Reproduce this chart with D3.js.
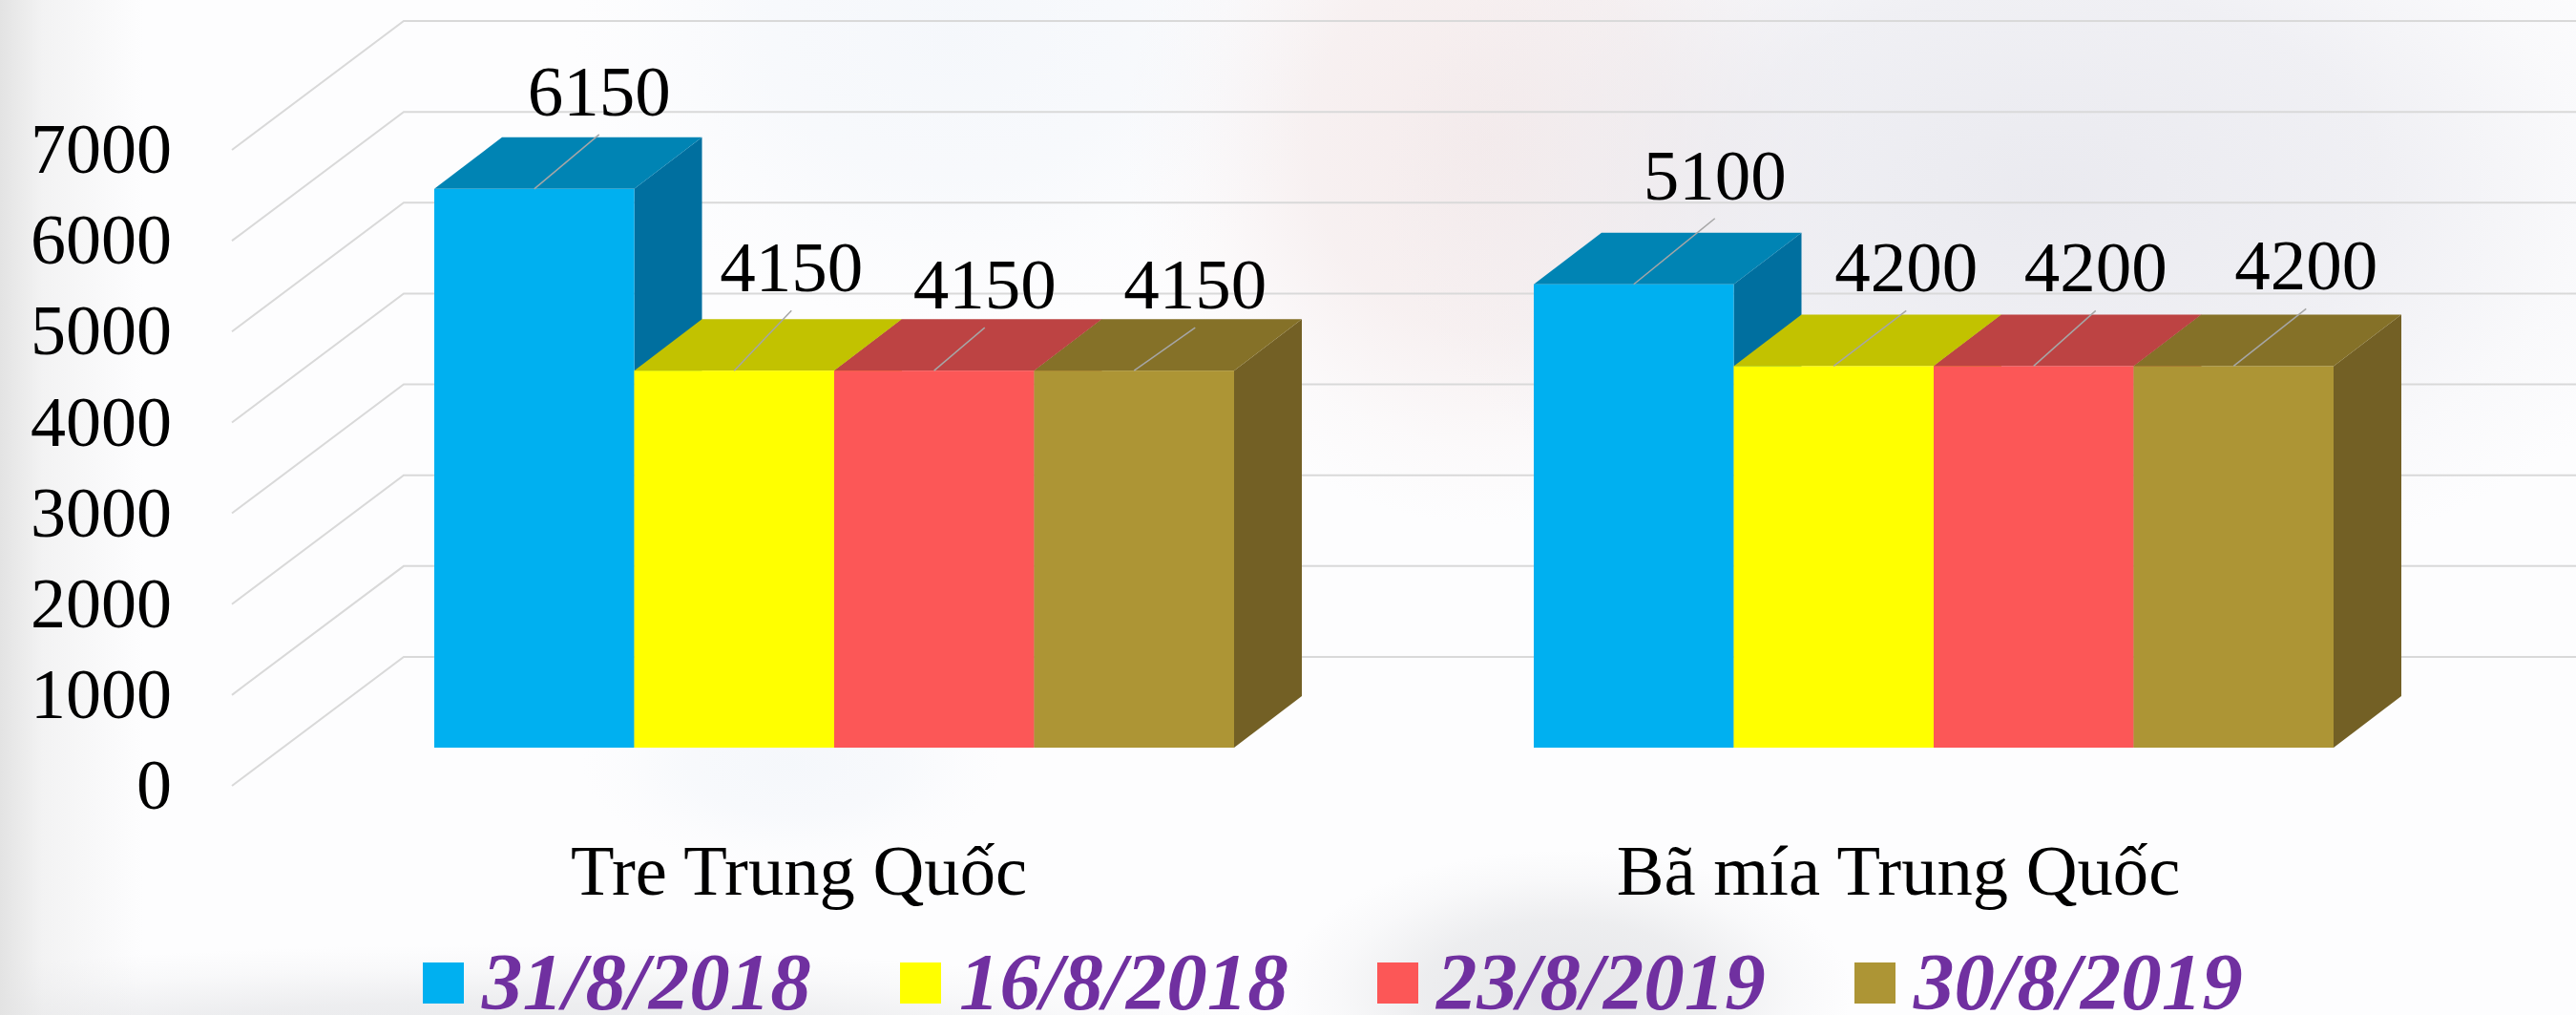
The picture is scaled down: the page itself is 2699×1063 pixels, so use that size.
<!DOCTYPE html>
<html>
<head>
<meta charset="utf-8">
<style>
  html, body { margin: 0; padding: 0; background: #fff; overflow: hidden; }
  text { font-family: "Liberation Serif", "Times New Roman", serif; fill: #000; }
</style>
<script src="https://cdn.jsdelivr.net/npm/d3@7"></script>
</head>
<body>
<svg id="chart"></svg>
<script>
const categories = ['Tre Trung Quốc', 'Bã mía Trung Quốc'];
const series = ['31/8/2018', '16/8/2018', '23/8/2019', '30/8/2019'];
const treValues = [6150, 4150, 4150, 4150];
const baMiaValues = [5100, 4200, 4200, 4200];
const yTicks = [0, 1000, 2000, 3000, 4000, 5000, 6000, 7000];

const faceColors = ['#00b0f0', '#ffff00', '#fc5757', '#ad9535'];
const topColors = ['#0084b4', '#c2c200', '#bd4343', '#857128'];
const sideColors = ['#006f9f', '#a8a800', '#a83a3a', '#736025'];

// label offset from the middle of the bar's top front edge, picked by eye
const labelOffsets = [
  [[68, -77], [60, -83], [53, -65], [64, -65]],
  [[85, -89], [76, -78], [65, -78], [76, -80]]
];

const width = 2699;
const height = 1063;
const depthX = 71;
const depthY = 54;
const wallX = 180;
const wallY = 135;
const floorLeft = 243;
const barLift = 40;

const svg = d3.select('#chart').attr('width', width).attr('height', height);

// background: pale photo-like wash
const defs = svg.append('defs');

function softSpot(id, color, opacity) {
  const g = defs.append('radialGradient').attr('id', id);
  g.append('stop').attr('offset', '0%').attr('stop-color', color).attr('stop-opacity', opacity);
  g.append('stop').attr('offset', '50%').attr('stop-color', color).attr('stop-opacity', opacity * 0.7);
  g.append('stop').attr('offset', '80%').attr('stop-color', color).attr('stop-opacity', opacity * 0.2);
  g.append('stop').attr('offset', '100%').attr('stop-color', color).attr('stop-opacity', 0);
}
softSpot('spotPink', '#efdfdf', 0.6);
softSpot('spotLav', '#e8e8ee', 0.9);
softSpot('spotBlue', '#e9eff7', 0.4);
softSpot('spotGrey', '#dcdde0', 0.7);

const leftFade = defs.append('linearGradient').attr('id', 'leftFade');
leftFade.append('stop').attr('offset', '0%').attr('stop-color', '#e3e3e3');
leftFade.append('stop').attr('offset', '30%').attr('stop-color', '#e3e3e3').attr('stop-opacity', 0.4);
leftFade.append('stop').attr('offset', '100%').attr('stop-color', '#e3e3e3').attr('stop-opacity', 0);

const bg = svg.append('g');
bg.append('rect').attr('width', width).attr('height', height).attr('fill', '#fdfdfe');
bg.append('ellipse').attr('cx', 1560).attr('cy', 150).attr('rx', 380).attr('ry', 400).attr('fill', 'url(#spotPink)');
bg.append('ellipse').attr('cx', 2150).attr('cy', 200).attr('rx', 700).attr('ry', 420).attr('fill', 'url(#spotLav)');
bg.append('ellipse').attr('cx', 1000).attr('cy', 40).attr('rx', 400).attr('ry', 300).attr('fill', 'url(#spotBlue)');
bg.append('ellipse').attr('cx', 830).attr('cy', 800).attr('rx', 220).attr('ry', 110).attr('fill', 'url(#spotBlue)');
bg.append('ellipse').attr('cx', 1640).attr('cy', 1040).attr('rx', 300).attr('ry', 150).attr('fill', 'url(#spotGrey)');
bg.append('ellipse').attr('cx', 500).attr('cy', 1110).attr('rx', 900).attr('ry', 120).attr('fill', 'url(#spotGrey)');
bg.append('rect').attr('width', 150).attr('height', height).attr('fill', 'url(#leftFade)');

const y = d3.scaleLinear().domain([0, 7000]).range([823, 157]);
const xCat = d3.scaleBand().domain(categories).range([298, 2602]).paddingInner(0).paddingOuter(0);
const xBar = d3.scaleBand().domain(series).range([0, 838]);

// gridlines run up the side wall, then along the back wall
const grid = d3.line();
svg.append('g').selectAll('path')
  .data(yTicks)
  .join('path')
  .attr('d', d => grid([[floorLeft, y(d)], [floorLeft + wallX, y(d) - wallY], [width, y(d) - wallY]]))
  .attr('fill', 'none')
  .attr('stroke', '#d9d9d9')
  .attr('stroke-width', 2);

const yAxis = svg.append('g')
  .attr('transform', 'translate(180,0)')
  .call(d3.axisLeft(y).tickValues(yTicks).tickSize(0).tickPadding(0).tickFormat(d3.format('d')));
yAxis.select('.domain').remove();
yAxis.selectAll('text').style('font-size', '74px').style('font-family', '"Liberation Serif"').attr('dy', '0.32em');

const xAxis = svg.append('g')
  .attr('transform', 'translate(-37,880)')
  .call(d3.axisBottom(xCat).tickSize(0).tickPadding(0));
xAxis.select('.domain').remove();
xAxis.selectAll('text').style('font-size', '74.6px').style('font-family', '"Liberation Serif"').attr('y', 57).attr('dy', 0);

const rows = [treValues, baMiaValues];
const barsLayer = svg.append('g');
const labelLayer = svg.append('g');

categories.forEach((cat, c) => {
  rows[c].forEach((v, s) => {
    const x0 = xCat(cat) + (xCat.bandwidth() - 838) / 2 + xBar(series[s]);
    const x1 = x0 + xBar.bandwidth();
    const yTop = y(v) - barLift;
    const yBase = y(0) - barLift;
    const bar = barsLayer.append('g');

    bar.append('path')
      .attr('d', d3.line()([[x1, yTop], [x1 + depthX, yTop - depthY], [x1 + depthX, yBase - depthY], [x1, yBase]]) + 'Z')
      .attr('fill', sideColors[s]);
    bar.append('path')
      .attr('d', d3.line()([[x0, yTop], [x0 + depthX, yTop - depthY], [x1 + depthX, yTop - depthY], [x1, yTop]]) + 'Z')
      .attr('fill', topColors[s]);
    bar.append('rect')
      .attr('x', x0)
      .attr('y', yTop)
      .attr('width', xBar.bandwidth())
      .attr('height', yBase - yTop)
      .attr('fill', faceColors[s]);

    const mid = (x0 + x1) / 2;
    const off = labelOffsets[c][s];
    labelLayer.append('line')
      .attr('x1', mid)
      .attr('y1', yTop)
      .attr('x2', mid + off[0])
      .attr('y2', yTop + off[1] + 20)
      .attr('stroke', '#a6a6a6')
      .attr('stroke-width', 1.5);
    labelLayer.append('text')
      .attr('x', mid + off[0])
      .attr('y', yTop + off[1])
      .attr('text-anchor', 'middle')
      .style('font-size', '75px')
      .text(v);
  });
});

// legend
const xLegend = d3.scaleBand().domain(series).range([443, 2443]);
const legend = svg.append('g').selectAll('g')
  .data(series)
  .join('g')
  .attr('transform', d => `translate(${xLegend(d)},0)`);
legend.append('rect')
  .attr('y', 1008)
  .attr('width', 43)
  .attr('height', 43)
  .attr('fill', (d, i) => faceColors[i]);
legend.append('text')
  .attr('x', 62)
  .attr('y', 1057)
  .style('font-size', '85px')
  .style('font-weight', 'bold')
  .style('font-style', 'italic')
  .style('fill', '#7030a0')
  .text(d => d);
</script>
</body>
</html>
